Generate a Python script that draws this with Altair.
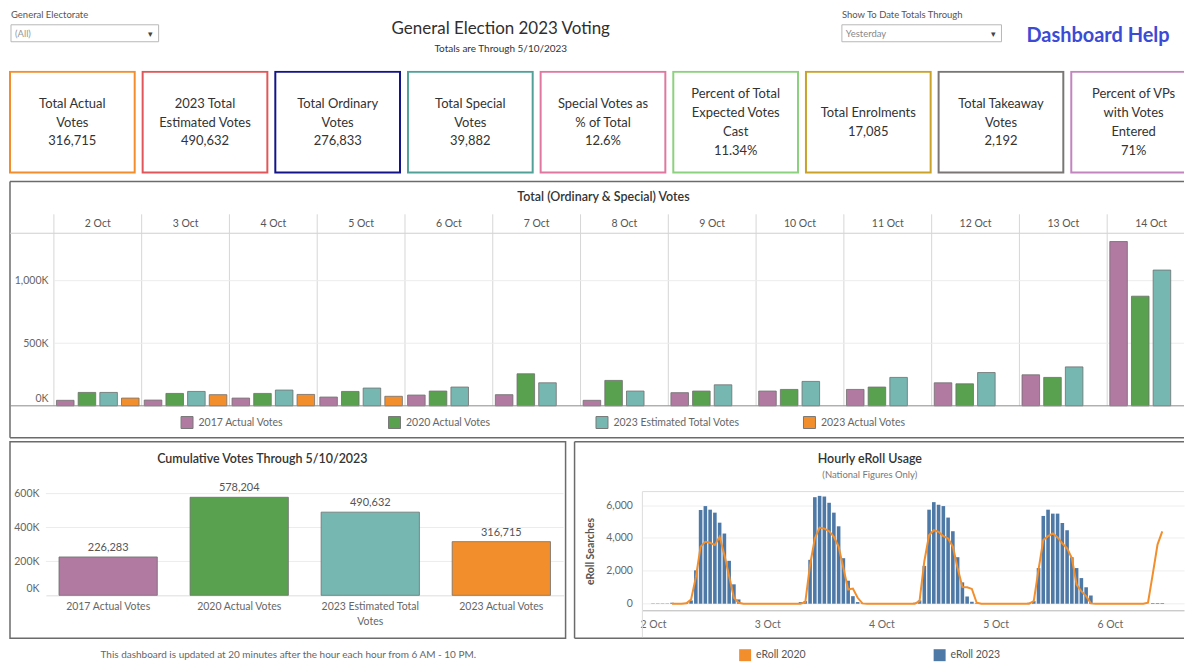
import altair as alt
import pandas as pd

# ---------------- text ----------------
dashboard_title = "General Election 2023 Voting"
dashboard_subtitle = "Totals are Through 5/10/2023"
filter1_label = "General Electorate"
filter1_value = "(All)"
filter2_label = "Show To Date Totals Through"
filter2_value = "Yesterday"
help_text = "Dashboard Help"
main_title = "Total (Ordinary & Special) Votes"
cum_title = "Cumulative Votes Through 5/10/2023"
eroll_title = "Hourly eRoll Usage"
eroll_subtitle = "(National Figures Only)"
footer_text = "This dashboard is updated at 20 minutes after the hour each hour from 6 AM - 10 PM."

# ---------------- KPI cards ----------------
card_labels = ["Total Actual\nVotes", "2023 Total\nEstimated Votes", "Total Ordinary\nVotes",
               "Total Special\nVotes", "Special Votes as\n% of Total",
               "Percent of Total\nExpected Votes\nCast", "Total Enrolments",
               "Total Takeaway\nVotes", "Percent of VPs\nwith Votes\nEntered"]
card_values = ["316,715", "490,632", "276,833", "39,882", "12.6%", "11.34%", "17,085", "2,192", "71%"]
card_colors = ["#f28e2b", "#e15759", "#14148a", "#52a199", "#e0779f",
               "#8cd17d", "#c9a227", "#7a7676", "#c285c0"]

# ---------------- daily votes ----------------
days = ["2 Oct", "3 Oct", "4 Oct", "5 Oct", "6 Oct", "7 Oct", "8 Oct",
        "9 Oct", "10 Oct", "11 Oct", "12 Oct", "13 Oct", "14 Oct"]
series_names = ["2017 Actual Votes", "2020 Actual Votes",
                "2023 Estimated Total Votes", "2023 Actual Votes"]
series_colors = ["#b07aa1", "#59a14f", "#76b7b2", "#f28e2b"]
votes_2017 = [44000, 46000, 62000, 70000, 86000, 89000, 44000, 105000, 118000,
              131000, 184000, 248000, 1313000]
votes_2020 = [107000, 99000, 99000, 115000, 118000, 256000, 203000, 118000, 131000,
              150000, 176000, 227000, 876000]
votes_2023_est = [107000, 115000, 126000, 142000, 150000, 184000, 118000, 168000,
                  195000, 227000, 266000, 311000, 1085000]
votes_2023_actual = [62000, 89000, 91000, 76000, None, None, None, None, None,
                     None, None, None, None]
main_ticks = [0, 500000, 1000000]

# ---------------- cumulative ----------------
cum_values = [226283, 578204, 490632, 316715]
cum_ticks = [0, 200000, 400000, 600000]

# ---------------- hourly eRoll ----------------
eroll_dates = ["2023-10-02", "2023-10-03", "2023-10-04", "2023-10-05", "2023-10-06"]
eroll_2023_oct02 = [20, 20, 20, 20, 60, 0, 0, 60, 200, 2030, 5700, 5940, 5720, 5540,
                    4930, 4270, 2610, 1180, 260, 0, 30, 0, 0, 0]
eroll_2023_oct03 = [0, 0, 0, 0, 0, 0, 0, 100, 160, 2670, 6480, 6560, 6520, 6140,
                    5540, 4710, 2770, 1400, 460, 100, 30, 0, 0, 0]
eroll_2023_oct04 = [0, 0, 0, 0, 0, 0, 0, 60, 200, 2300, 5720, 6180, 6020, 5940,
                    5240, 4410, 2830, 1300, 440, 120, 30, 0, 0, 0]
eroll_2023_oct05 = [0, 0, 0, 0, 0, 0, 0, 60, 160, 2170, 5340, 5720, 5480, 5480,
                    4910, 4470, 2830, 2170, 1560, 1000, 500, 30, 0, 0]
eroll_2023_oct06 = [0, 0, 0, 0, 0, 0, 0, 0, 0, 40, 40, 40]
eroll_2020_oct02 = [None, None, None, None, 0, 0, 0, 30, 260, 1600, 3470, 3770, 3710,
                    3570, 4070, 2970, 1670, 360, 60, 0, 0, 0, 0, 0]
eroll_2020_oct03 = [0, 0, 0, 0, 0, 0, 0, 0, 100, 2370, 3970, 4630, 4570, 4410,
                    4070, 3470, 2170, 860, 920, 360, 20, 0, 0, 0]
eroll_2020_oct04 = [0, 0, 0, 0, 0, 0, 0, 0, 160, 2570, 4170, 4470, 4370, 4110,
                    3970, 3470, 2170, 1020, 1000, 900, 60, 0, 0, 0]
eroll_2020_oct05 = [0, 0, 0, 0, 0, 0, 0, 0, 160, 2070, 3870, 4110, 4270, 4030,
                    3670, 3370, 2770, 1160, 760, 460, 20, 0, 0, 0]
eroll_2020_oct06 = [0, 0, 0, 0, 0, 0, 0, 0, 60, 1800, 3600, 4400]
eroll_series = ["eRoll 2020", "eRoll 2023"]
eroll_colors = ["#f28e2b", "#4e79a7"]
eroll_ticks = [0, 2000, 4000, 6000]

# ---------------- tables ----------------
main_rows = []
for s, vals in zip(series_names, [votes_2017, votes_2020, votes_2023_est, votes_2023_actual]):
    for d, v in zip(days, vals):
        if v is not None:
            main_rows.append({"day": d, "series": s, "votes": v})
main_df = pd.DataFrame(main_rows)

cards_df = pd.DataFrame({"card": card_labels, "value": card_values, "color": card_colors})
cards_df["text"] = cards_df["card"] + "\n" + cards_df["value"]

cum_df = pd.DataFrame({"cum_series": series_names, "votes": cum_values})


def hourly(name, lists):
    rows = []
    for date, vals in zip(eroll_dates, lists):
        for h, v in enumerate(vals):
            if v is not None:
                rows.append({"time": f"{date}T{h:02d}:00:00", "searches": v, "eroll_series": name})
    return pd.DataFrame(rows)


er23_df = hourly("eRoll 2023", [eroll_2023_oct02, eroll_2023_oct03, eroll_2023_oct04,
                                eroll_2023_oct05, eroll_2023_oct06])
er20_df = hourly("eRoll 2020", [eroll_2020_oct02, eroll_2020_oct03, eroll_2020_oct04,
                                eroll_2020_oct05, eroll_2020_oct06])

# ---------------- helpers for decoration ----------------
ONE = alt.Data(values=[{}])
FONT = "Lato"
PANEL = "#6b6b6b"


def txt(s, x, y, **kw):
    kw.setdefault("baseline", "middle")
    return alt.Chart(ONE).mark_text(**kw).encode(x=alt.value(x), y=alt.value(y), text=alt.value(s))


def hline(x1, x2, y, color, w=1.0):
    return alt.Chart(ONE).mark_rule(color=color, strokeWidth=w).encode(
        x=alt.value(x1), x2=alt.value(x2), y=alt.value(y))


def vline(x, y1, y2, color, w=1.0):
    return alt.Chart(ONE).mark_rule(color=color, strokeWidth=w).encode(
        x=alt.value(x), y=alt.value(y1), y2=alt.value(y2))


def box(x1, x2, y1, y2, stroke, w=1.0, fill="white"):
    return alt.Chart(ONE).mark_rect(fill=fill, stroke=stroke, strokeWidth=w).encode(
        x=alt.value(x1), x2=alt.value(x2), y=alt.value(y1), y2=alt.value(y2))


W = 1178

# ---------------- header ----------------
header = alt.layer(
    txt(filter1_label, 2, 5, align="left", fontSize=9.5, color="#555"),
    box(2, 150, 15, 32, "#b8b8b8"),
    txt(filter1_value, 6, 24, align="left", fontSize=9.5, color="#999"),
    txt("\u25be", 142, 24, fontSize=9, color="#444"),
    txt(dashboard_title, 493, 19, fontSize=17, color="#2f2f2f"),
    txt(dashboard_subtitle, 493, 39, fontSize=10, color="#333"),
    txt(filter2_label, 835, 5, align="left", fontSize=9.5, color="#555"),
    box(835, 995, 15, 32, "#b8b8b8"),
    txt(filter2_value, 839, 24, align="left", fontSize=9.5, color="#888"),
    txt("\u25be", 987, 24, fontSize=9, color="#444"),
    txt(help_text, 1020, 26, align="left", fontSize=20, fontWeight="bold", color="#3b4bd6"),
).properties(width=W, height=61)

# ---------------- KPI cards ----------------
card_x = alt.X("card:N", sort=card_labels, axis=None,
               scale=alt.Scale(domain=card_labels, range=[1, 1190], paddingInner=0.06, paddingOuter=0))
cards = alt.layer(
    alt.Chart(cards_df).mark_rect(fill="white", strokeWidth=2, clip=True).encode(
        x=card_x, y=alt.value(1), y2=alt.value(102),
        stroke=alt.Stroke("color:N", scale=None)),
    alt.Chart(cards_df).transform_calculate(
        nl="length(split(datum.text, '\\n'))"
    ).transform_calculate(
        off="-(datum.nl - 1) * 9.5"
    ).mark_text(fontSize=13, lineHeight=19, lineBreak="\n", color="#333", baseline="middle").encode(
        x=card_x,
        y=alt.Y("off:Q", scale=alt.Scale(domain=[-52, 51], range=[0, 103], nice=False, zero=False),
                axis=None),
        text="text:N"),
).properties(width=W, height=163)

# ---------------- main daily bars ----------------
main_y_scale = alt.Scale(domain=[0, 1379000], range=[173, 0], nice=False)
day_scale = alt.Scale(domain=days, range=[45, 1189], paddingInner=0, paddingOuter=0)
k_expr = "format(datum.value / 1000, ',') + 'K'"
zero_base = alt.condition("datum.value == 0", alt.value("bottom"), alt.value("middle"))
zero_off = alt.condition("datum.value == 0", alt.value(-2), alt.value(0))
main_y_axis = alt.Axis(orient="left", offset=-45, values=main_ticks, labelExpr=k_expr,
                       domain=False, ticks=False, grid=False, labelPadding=6, title=None,
                       labelFontSize=10.5, labelColor="#666",
                       labelBaseline=zero_base, labelOffset=zero_off)
main_x_axis = alt.Axis(orient="top", title=None, domain=False, ticks=False, labelPadding=5,
                       labelFontSize=10.5, labelColor="#555", labelAngle=0)

bars = alt.Chart(main_df).mark_bar(stroke="#6e6e6e", strokeWidth=0.8).encode(
    x=alt.X("day:N", sort=days, scale=day_scale, axis=main_x_axis),
    xOffset=alt.XOffset("series:N", sort=series_names,
                        scale=alt.Scale(domain=series_names, paddingInner=0.19, paddingOuter=0.12)),
    y=alt.Y("votes:Q", scale=main_y_scale, axis=main_y_axis),
    color=alt.Color("series:N", sort=series_names,
                    scale=alt.Scale(domain=series_names, range=series_colors),
                    legend=alt.Legend(orient="none", legendX=172, legendY=183, direction="horizontal",
                                      title=None, symbolType="square", symbolSize=144,
                                      symbolStrokeColor="#777", symbolStrokeWidth=1,
                                      labelFontSize=10.5, labelColor="#666", gridAlign="all",
                                      columnPadding=61, labelOffset=5)),
)
separators = alt.Chart(pd.DataFrame({"day": days})).mark_rule(color="#d6d6d6").encode(
    x=alt.X("day:N", sort=days, bandPosition=0, scale=day_scale, axis=main_x_axis),
    y=alt.value(-19), y2=alt.value(173))
main_grid = alt.Chart(pd.DataFrame({"votes": main_ticks[1:]})).mark_rule(color="#ececec").encode(
    y=alt.Y("votes:Q", scale=main_y_scale, axis=main_y_axis), x=alt.value(45), x2=alt.value(W))
main_base = alt.Chart(pd.DataFrame({"votes": main_ticks[:1]})).mark_rule(color="#8c8c8c").encode(
    y=alt.Y("votes:Q", scale=main_y_scale, axis=main_y_axis), x=alt.value(1), x2=alt.value(W))

main = alt.layer(
    hline(1, W, -52, PANEL, 1.5),
    vline(1, -52, 205, PANEL, 1.5),
    hline(1, W, 205, PANEL, 1.5),
    txt(main_title, 596, -36, fontSize=12.5, fontWeight=600, color="#333"),
    hline(1, W, 0, "#cfcfcf"),
    separators,
    main_grid,
    bars,
    main_base,
).properties(width=W, height=259)

# ---------------- cumulative ----------------
cum_y_scale = alt.Scale(domain=[0, 611760], range=[104, 0], nice=False)
cum_y_axis = alt.Axis(orient="left", offset=-37, values=cum_ticks, labelExpr=k_expr,
                      domain=False, ticks=False, grid=False, labelPadding=7, title=None,
                      labelFontSize=10.5, labelColor="#666",
                      labelBaseline=zero_base, labelOffset=zero_off)
cum_x = alt.X("cum_series:N", sort=series_names,
              scale=alt.Scale(domain=series_names, range=[37, 556], paddingInner=0.25, paddingOuter=0.1),
              axis=alt.Axis(title=None, labelAngle=0, ticks=False, domainColor="#dddddd",
                            labelPadding=6, labelFontSize=10.5, labelColor="#666",
                            labelLineHeight=15, labelLimit=250,
                            labelExpr="datum.label == '2023 Estimated Total Votes' ? "
                                      "['2023 Estimated Total', 'Votes'] : datum.label"))
cum_bars = alt.Chart(cum_df).mark_bar(stroke="#6e6e6e", strokeWidth=0.8).encode(
    x=cum_x,
    y=alt.Y("votes:Q", scale=cum_y_scale, axis=cum_y_axis),
    color=alt.Color("cum_series:N", sort=series_names,
                    scale=alt.Scale(domain=series_names, range=series_colors), legend=None),
)
cum_labels = alt.Chart(cum_df).mark_text(dy=-9, fontSize=11, color="#555", baseline="middle").encode(
    x=cum_x, y=alt.Y("votes:Q", scale=cum_y_scale, axis=cum_y_axis),
    text=alt.Text("votes:Q", format=","))
cum_grid = alt.Chart(pd.DataFrame({"votes": cum_ticks[1:]})).mark_rule(color="#ececec").encode(
    y=alt.Y("votes:Q", scale=cum_y_scale, axis=cum_y_axis), x=alt.value(37), x2=alt.value(556))

cumulative = alt.layer(
    box(1, 558, -50, 147, PANEL, 1.5, fill="transparent"),
    txt(cum_title, 254, -33, fontSize=12.5, fontWeight=600, color="#333"),
    txt(footer_text, 280, 164, fontSize=10, color="#666"),
    cum_grid,
    cum_bars,
    cum_labels,
).properties(width=635, height=104)

# ---------------- hourly eRoll ----------------
er_domain = [alt.DateTime(year=2023, month=10, date=1, hours=22, minutes=49),
             alt.DateTime(year=2023, month=10, date=6, hours=14, minutes=31)]
er_tick_dates = [alt.DateTime(year=2023, month=10, date=d) for d in [2, 3, 4, 5, 6]]
er_x = alt.X("time:T", scale=alt.Scale(domain=er_domain, nice=False),
             axis=alt.Axis(title=None, values=er_tick_dates, format="%-d %b", ticks=False,
                           domainColor="#b5b5b5", labelPadding=9, labelFontSize=10.5,
                           labelColor="#666", labelFlush=10, labelOverlap=False, grid=False))
er_y_scale = alt.Scale(domain=[-400, 6820], nice=False, zero=False)
er_y_axis = alt.Axis(values=eroll_ticks, format=",d", domain=False, ticks=False, grid=True,
                     gridColor="#eeeeee", labelPadding=10, labelOverlap=False,
                     title="eRoll Searches", titleFontSize=10.5, titleColor="#555",
                     titleFontWeight="bold", titlePadding=10, labelFontSize=10.5, labelColor="#666")
er_color = alt.Color("eroll_series:N", sort=eroll_series,
                     scale=alt.Scale(domain=eroll_series, range=eroll_colors),
                     legend=alt.Legend(orient="none", legendX=97, legendY=158, direction="horizontal",
                                       title=None, symbolType="square", symbolSize=144,
                                       symbolStrokeWidth=0, labelFontSize=10.5, labelColor="#555",
                                       gridAlign="all", columnPadding=128, labelOffset=5))
er_bars = alt.Chart(er23_df).mark_bar(size=3.6).encode(
    x=er_x, y=alt.Y("searches:Q", scale=er_y_scale, axis=er_y_axis), color=er_color)
er_line = alt.Chart(er20_df).mark_line(strokeWidth=2).encode(
    x=er_x, y=alt.Y("searches:Q", scale=er_y_scale, axis=er_y_axis), color=er_color)

eroll = alt.layer(
    hline(-68, 543, -50, PANEL, 1.5),
    vline(-68, -50, 147, PANEL, 1.5),
    hline(-68, 543, 147, PANEL, 1.5),
    txt(eroll_title, 228, -33, fontSize=12.5, fontWeight=600, color="#333"),
    txt(eroll_subtitle, 228, -17, fontSize=9.5, color="#777"),
    hline(0, 543, 0, "#dcdcdc"),
    vline(0, 0, 146, "#dcdcdc"),
    er_bars,
    er_line,
).properties(width=543, height=119)

bottom = alt.hconcat(cumulative, eroll, spacing=0, bounds="flush").resolve_scale(
    color="independent", x="independent", y="independent")

chart = alt.vconcat(header, cards, main, bottom, spacing=0, bounds="flush").resolve_scale(
    color="independent", x="independent", y="independent"
).properties(padding=0).configure(font=FONT).configure_view(stroke="transparent")

chart.save("out.html", embed_options={"renderer": "svg", "actions": False})
